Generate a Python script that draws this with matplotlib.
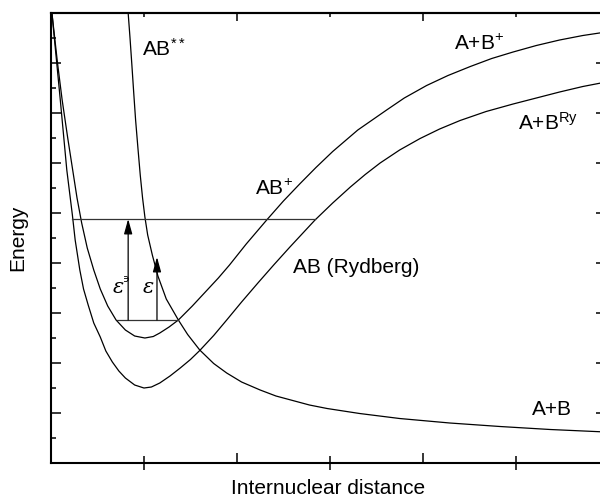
import numpy as np
import matplotlib
matplotlib.use('Agg')
import matplotlib.pyplot as plt

plt.rcParams['font.family'] = ['Liberation Sans', 'DejaVu Sans']
plt.rcParams['mathtext.fontset'] = 'custom'
plt.rcParams['mathtext.rm'] = 'Liberation Sans'
plt.rcParams['mathtext.it'] = 'Liberation Sans:italic'

# curva Rydberg (pozo inferior)
x_ryd = [0.01, 0.10, 0.17, 0.23, 0.26, 0.31, 0.35, 0.40, 0.46, 0.53, 0.59, 0.66, 0.73, 0.80,
         0.90, 1.00, 1.08, 1.17, 1.28, 1.39, 1.50, 1.60, 1.75, 1.89, 2.05, 2.23, 2.40, 2.57,
         2.70, 2.84, 3.03, 3.22, 3.38, 3.54, 3.75, 3.97, 4.18, 4.40, 4.68, 4.97, 5.22, 5.47,
         5.72, 5.97]
y_ryd = [9.00, 7.26, 5.86, 4.96, 4.46, 3.86, 3.48, 3.16, 2.80, 2.52, 2.24, 2.02, 1.84, 1.70,
         1.56, 1.50, 1.52, 1.60, 1.74, 1.90, 2.07, 2.25, 2.55, 2.86, 3.22, 3.61, 3.97, 4.32,
         4.58, 4.86, 5.20, 5.52, 5.77, 6.00, 6.26, 6.49, 6.68, 6.85, 7.03, 7.18, 7.30, 7.42,
         7.53, 7.62]

# curva ion AB+
x_ion = [0.01, 0.07, 0.12, 0.18, 0.23, 0.28, 0.33, 0.39, 0.46, 0.53, 0.61, 0.70, 0.80, 0.90,
         1.01, 1.10, 1.17, 1.27, 1.37, 1.52, 1.66, 1.80, 1.92, 2.10, 2.32, 2.50, 2.68, 2.85,
         3.03, 3.30, 3.61, 3.80, 4.04, 4.27, 4.51, 4.74, 4.97, 5.22, 5.47, 5.72, 5.97]
y_ion = [9.00, 8.00, 7.26, 6.50, 5.90, 5.30, 4.80, 4.30, 3.86, 3.48, 3.14, 2.86, 2.66, 2.54,
         2.50, 2.53, 2.60, 2.72, 2.86, 3.14, 3.42, 3.70, 3.96, 4.38, 4.86, 5.24, 5.59, 5.91,
         6.23, 6.66, 7.06, 7.30, 7.55, 7.75, 7.93, 8.09, 8.22, 8.35, 8.46, 8.55, 8.62]

# curva repulsiva AB**
x_rep = [0.83, 0.85, 0.87, 0.89, 0.91, 0.935, 0.96, 0.985, 1.01, 1.04, 1.09, 1.15, 1.24, 1.37,
         1.47, 1.60, 1.75, 1.89, 2.05, 2.25, 2.42, 2.60, 2.78, 2.97, 3.32, 3.75, 4.29, 4.83,
         5.37, 5.97]
y_rep = [9.00, 8.50, 7.96, 7.40, 6.86, 6.30, 5.76, 5.30, 4.92, 4.56, 4.16, 3.74, 3.28, 2.86,
         2.57, 2.26, 1.99, 1.80, 1.62, 1.46, 1.34, 1.25, 1.16, 1.09, 0.99, 0.89, 0.80, 0.73,
         0.67, 0.62]

# niveles horizontales y flechas
nivel_sup = [0.23, 2.84, 4.88]
nivel_inf = [0.71, 1.37, 2.86]
flecha1 = [0.83, 2.86, 4.88]
flecha2 = [1.14, 2.86, 4.12]

fig = plt.figure(figsize=(6.0, 4.97), dpi=100)
ax = fig.add_axes([0.085, 0.0684, 0.925, 0.9054])

for xs, ys in [(x_ryd, y_ryd), (x_ion, y_ion), (x_rep, y_rep)]:
    ax.plot(xs, ys, color='black', lw=0.9)

ax.plot(nivel_sup[:2], [nivel_sup[2]] * 2, color='#333333', lw=0.9)
ax.plot(nivel_inf[:2], [nivel_inf[2]] * 2, color='#333333', lw=0.9)

for f in [flecha1, flecha2]:
    ax.annotate('', xy=(f[0], f[2]), xytext=(f[0], f[1]),
                arrowprops=dict(arrowstyle='-|>,head_length=0.9,head_width=0.25',
                                color='black', lw=0.9, shrinkA=0, shrinkB=0))

fs = 15
ax.text(0.98, 8.14, r'AB$^{**}$', fontsize=fs)
ax.text(4.34, 8.26, r'A+B$^{+}$', fontsize=fs)
ax.text(5.02, 6.66, r'A+B$^{\mathrm{Ry}}$', fontsize=fs)
ax.text(2.19, 5.36, r'AB$^{+}$', fontsize=fs)
ax.text(2.60, 3.80, 'AB (Rydberg)', fontsize=fs)
ax.text(5.17, 0.96, 'A+B', fontsize=fs)
ax.text(0.66, 3.40, 'ε', fontsize=fs, style='italic', family='DejaVu Serif')
ax.text(0.77, 3.62, '϶', fontsize=8, family='DejaVu Sans')
ax.text(0.99, 3.40, 'ε', fontsize=fs, style='italic', family='DejaVu Serif')

ax.set_xlim(0, 5.97)
ax.set_ylim(0, 9)
ax.set_xlabel('Internuclear distance', fontsize=fs, labelpad=3)
ax.set_ylabel('Energy', fontsize=fs, labelpad=14)

ax.set_xticks([2, 4])
ax.set_xticks([1, 3, 5], minor=True)
ax.set_yticks(np.arange(0, 9.1, 1))
ax.set_yticks(np.arange(0.5, 9, 1), minor=True)
ax.tick_params(axis='x', which='major', direction='in', length=7, width=1.1,
               labelbottom=False, top=False)
ax.tick_params(axis='x', which='minor', direction='inout', length=10, width=1.1, top=False)
ax.tick_params(axis='y', which='major', direction='in', length=7, width=1.1,
               labelleft=False, right=True)
ax.tick_params(axis='y', which='minor', direction='in', length=3.5, width=1.1, right=True)

top = ax.secondary_xaxis('top')
top.set_xticks([2, 4])
top.set_xticks([1, 3, 5], minor=True)
top.tick_params(which='major', direction='in', length=6, width=1.1, labeltop=False)
top.tick_params(which='minor', direction='in', length=3, width=1.1)

for s in ax.spines.values():
    s.set_linewidth(1.5)
top.spines['top'].set_linewidth(1.5)

plt.savefig('out.png', dpi=100)
